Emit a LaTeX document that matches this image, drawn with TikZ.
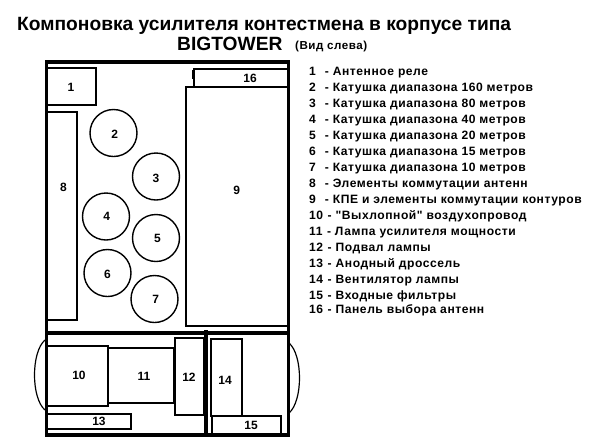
\documentclass[tikz,border=0pt]{standalone}
\usepackage{fontspec}
\setmainfont{Liberation Sans}
\newfontfamily\listfont[LetterSpace=4.5]{Liberation Sans}
\begin{document}
\begin{tikzpicture}[x=1pt,y=-1pt,
  part/.style={draw=black,line width=2pt,fill=white,inner sep=0pt},
  coil/.style={circle,draw=black,line width=1.4pt,fill=white,minimum size=47pt,inner sep=0pt},
  wall/.style={draw=black,line width=3.5pt},
  bulge/.style={draw=black,line width=1.2pt},
  tag/.style={inner sep=0pt,font=\fontsize{12}{12}\bfseries},
  ttl/.style={inner sep=0pt,anchor=base west,font=\fontsize{19.2}{20}\bfseries},
  entry/.style={inner sep=0pt,anchor=base west,font=\listfont\fontsize{12.1}{12}\bfseries}]
\useasboundingbox (0,0) rectangle (600,440);
\fill[white] (0,0) rectangle (600,440);
% title
\node[ttl] (t1) at (17,30) {Компоновка усилителя контестмена в корпусе типа};
\node[ttl] (t2) at (177,50) {BIGTOWER};
\node[inner sep=0pt,anchor=base west,font=\listfont\fontsize{11.6}{12}\bfseries] (t3) at (295,49) {(Вид слева)};
% arcs
\coordinate (la) at (45,340); \coordinate (lb) at (45,410);
\coordinate (ra) at (289,343); \coordinate (rb) at (289,413);
\draw[bulge] (la) .. controls (31,352) and (31,398) .. (lb);
\draw[bulge] (ra) .. controls (303,355) and (303,401) .. (rb);
% parts
\node[part,minimum width=49pt,minimum height=37pt] (p1) at (71.5,86.5) {};
\node[tag] (n1) at (71,87) {1};
\node[part,minimum width=30pt,minimum height=208pt] (p8) at (62,216) {};
\node[tag] (n8) at (63.5,187) {8};
\node[coil] (c2) at (113.5,133) {};
\node[tag] (n2) at (114.7,134) {2};
\node[coil] (c3) at (156,176.5) {};
\node[tag] (n3) at (156,178) {3};
\node[coil] (c4) at (106,216.5) {};
\node[tag] (n4) at (106.7,216) {4};
\node[coil] (c5) at (156,238) {};
\node[tag] (n5) at (157.5,238) {5};
\node[coil] (c6) at (107.5,273) {};
\node[tag] (n6) at (107.5,274) {6};
\node[coil] (c7) at (154.5,299) {};
\node[tag] (n7) at (155.7,299.5) {7};
\node[part,minimum width=102pt,minimum height=239pt] (p9) at (237,206.5) {};
\node[tag] (n9) at (236.7,190) {9};
\node[part,minimum width=94pt,minimum height=18pt] (p16) at (241,78) {};
\node[tag] (n16) at (250,78) {16};
\fill[black] (192,70) rectangle (195,79);
\node[part,minimum width=61pt,minimum height=60pt] (p10) at (77.5,375.5) {};
\node[tag] (n10) at (79,375) {10};
\node[part,minimum width=66pt,minimum height=55pt] (p11) at (141,375.5) {};
\node[tag] (n11) at (144,376) {11};
\draw[black,line width=2pt] (174,348) -- (174,403);
\node[part,minimum width=29pt,minimum height=77pt] (p12) at (189.5,376.5) {};
\node[tag] (n12) at (189,377) {12};
\node[part,minimum width=84pt,minimum height=15pt] (p13) at (89,421.5) {};
\node[tag] (n13) at (99,421) {13};
\node[part,minimum width=31pt,minimum height=77pt] (p14) at (226.5,377.5) {};
\node[tag] (n14) at (225,380) {14};
\node[part,minimum width=69pt,minimum height=18pt] (p15) at (246.5,425) {};
\node[tag] (n15) at (251,425) {15};
% walls
\draw[wall] (46.5,62) rectangle (288.5,435);
\draw[wall] (46.5,333) -- (288.5,333);
\draw[wall] (206,330) -- (206,435);
% legend
\node[entry] (l1) at (309,75.5) {1\hspace{9pt}- Антенное реле};
\node[entry] (l2) at (309,91.5) {2\hspace{9pt}- Катушка диапазона 160 метров};
\node[entry] (l3) at (309,107.5) {3\hspace{9pt}- Катушка диапазона 80 метров};
\node[entry] (l4) at (309,123.5) {4\hspace{9pt}- Катушка диапазона 40 метров};
\node[entry] (l5) at (309,139.5) {5\hspace{9pt}- Катушка диапазона 20 метров};
\node[entry] (l6) at (309,155.5) {6\hspace{9pt}- Катушка диапазона 15 метров};
\node[entry] (l7) at (309,171.5) {7\hspace{9pt}- Катушка диапазона 10 метров};
\node[entry] (l8) at (309,187.5) {8\hspace{9pt}- Элементы коммутации антенн};
\node[entry] (l9) at (309,203.5) {9\hspace{9pt}- КПЕ и элементы коммутации контуров};
\node[entry] (l10) at (309,219.5) {10\hspace{4.5pt}- "Выхлопной" воздухопровод};
\node[entry] (l11) at (309,235.5) {11\hspace{4.5pt}- Лампа усилителя мощности};
\node[entry] (l12) at (309,251.5) {12\hspace{4.5pt}- Подвал лампы};
\node[entry] (l13) at (309,267.5) {13\hspace{4.5pt}- Анодный дроссель};
\node[entry] (l14) at (309,283.5) {14\hspace{4.5pt}- Вентилятор лампы};
\node[entry] (l15) at (309,299.5) {15\hspace{4.5pt}- Входные фильтры};
\node[entry] (l16) at (309,313.5) {16\hspace{4.5pt}- Панель выбора антенн};
\end{tikzpicture}
\end{document}
